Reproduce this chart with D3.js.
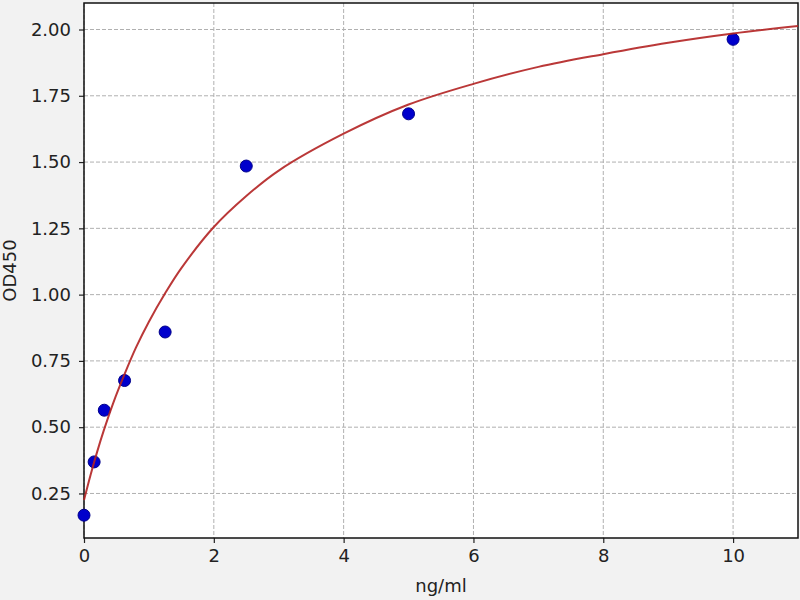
<!DOCTYPE html>
<html>
<head>
<meta charset="utf-8">
<script src="https://cdn.jsdelivr.net/npm/d3@7"></script>
<style>
  body { margin: 0; background: #f2f2f2; }
  svg { display: block; }
  text { font-family: "DejaVu Sans", sans-serif; }
</style>
</head>
<body>
<svg id="chart"></svg>
<script>
// standards (measured points)
const concentrations = [0, 0.156, 0.3125, 0.625, 1.25, 2.5, 5, 10];
const odValues = [0.168, 0.369, 0.564, 0.676, 0.859, 1.485, 1.682, 1.963];

// fitted curve
const curveX = [0, 0.1, 0.2, 0.3, 0.45, 0.625, 0.8, 1, 1.25, 1.5, 2, 2.5, 3, 4, 5, 6, 7, 8, 9, 10, 11];
const curveY = [0.225, 0.319, 0.405, 0.484, 0.591, 0.700, 0.800, 0.898, 1.005, 1.100, 1.255, 1.372, 1.468, 1.607, 1.717, 1.795, 1.859, 1.907, 1.95, 1.985, 2.013];

const xTicks = [0, 2, 4, 6, 8, 10];
const yTicks = [0.25, 0.5, 0.75, 1.0, 1.25, 1.5, 1.75, 2.0];

const width = 800;
const height = 600;
const margin = { top: 3, right: 2, bottom: 62, left: 84 };

const svg = d3.select('#chart')
  .attr('width', width)
  .attr('height', height);

svg.append('rect')
  .attr('width', width)
  .attr('height', height)
  .attr('fill', '#f2f2f2');

const x = d3.scaleLinear()
  .domain([0, 11])
  .range([margin.left, width - margin.right]);

const y = d3.scaleLinear()
  .domain([0.082, 2.1])
  .range([height - margin.bottom, margin.top]);

// plot background
svg.append('rect')
  .attr('x', margin.left)
  .attr('y', margin.top)
  .attr('width', width - margin.left - margin.right)
  .attr('height', height - margin.top - margin.bottom)
  .attr('fill', '#ffffff');

// grid
svg.append('g')
  .selectAll('line')
  .data(xTicks)
  .enter().append('line')
  .attr('x1', d => x(d)).attr('x2', d => x(d))
  .attr('y1', margin.top).attr('y2', height - margin.bottom)
  .attr('stroke', '#b0b0b0')
  .attr('stroke-width', 1)
  .attr('stroke-dasharray', '4,2');

svg.append('g')
  .selectAll('line')
  .data(yTicks)
  .enter().append('line')
  .attr('x1', margin.left).attr('x2', width - margin.right)
  .attr('y1', d => y(d)).attr('y2', d => y(d))
  .attr('stroke', '#b0b0b0')
  .attr('stroke-width', 1)
  .attr('stroke-dasharray', '4,2');

// axes
const xAxis = d3.axisBottom(x).tickValues(xTicks).tickFormat(d3.format('d')).tickSize(5).tickPadding(6);
const yAxis = d3.axisLeft(y).tickValues(yTicks).tickFormat(d3.format('.2f')).tickSize(5).tickPadding(8);

const gx = svg.append('g')
  .attr('transform', `translate(0, ${height - margin.bottom})`)
  .call(xAxis);
const gy = svg.append('g')
  .attr('transform', `translate(${margin.left}, 0)`)
  .call(yAxis);

[gx, gy].forEach(g => {
  g.select('.domain').remove();
  g.selectAll('line').attr('stroke', '#222').attr('stroke-width', 1.2);
  g.selectAll('text')
    .attr('fill', '#222')
    .attr('font-family', '"DejaVu Sans", sans-serif')
    .attr('font-size', 18);
});

// frame
svg.append('rect')
  .attr('x', margin.left)
  .attr('y', margin.top)
  .attr('width', width - margin.left - margin.right)
  .attr('height', height - margin.top - margin.bottom)
  .attr('fill', 'none')
  .attr('stroke', '#111')
  .attr('stroke-width', 1.5);

// curve
const line = d3.line()
  .x((d, i) => x(curveX[i]))
  .y(d => y(d))
  .curve(d3.curveCatmullRom);

// points
svg.append('g')
  .selectAll('circle')
  .data(odValues)
  .enter().append('circle')
  .attr('cx', (d, i) => x(concentrations[i]))
  .attr('cy', d => y(d))
  .attr('r', 6)
  .attr('fill', '#0000cc')
  .attr('stroke', '#00008b')
  .attr('stroke-width', 1);

svg.append('path')
  .datum(curveY)
  .attr('fill', 'none')
  .attr('stroke', '#b22222')
  .attr('stroke-width', 2)
  .attr('opacity', 0.9)
  .attr('d', line);

// labels
svg.append('text')
  .attr('x', (margin.left + width - margin.right) / 2)
  .attr('y', 592)
  .attr('text-anchor', 'middle')
  .attr('fill', '#222')
  .attr('font-size', 18)
  .text('ng/ml');

svg.append('text')
  .attr('transform', `translate(16, ${(margin.top + height - margin.bottom) / 2}) rotate(-90)`)
  .attr('text-anchor', 'middle')
  .attr('fill', '#222')
  .attr('font-size', 18)
  .text('OD450');
</script>
</body>
</html>
